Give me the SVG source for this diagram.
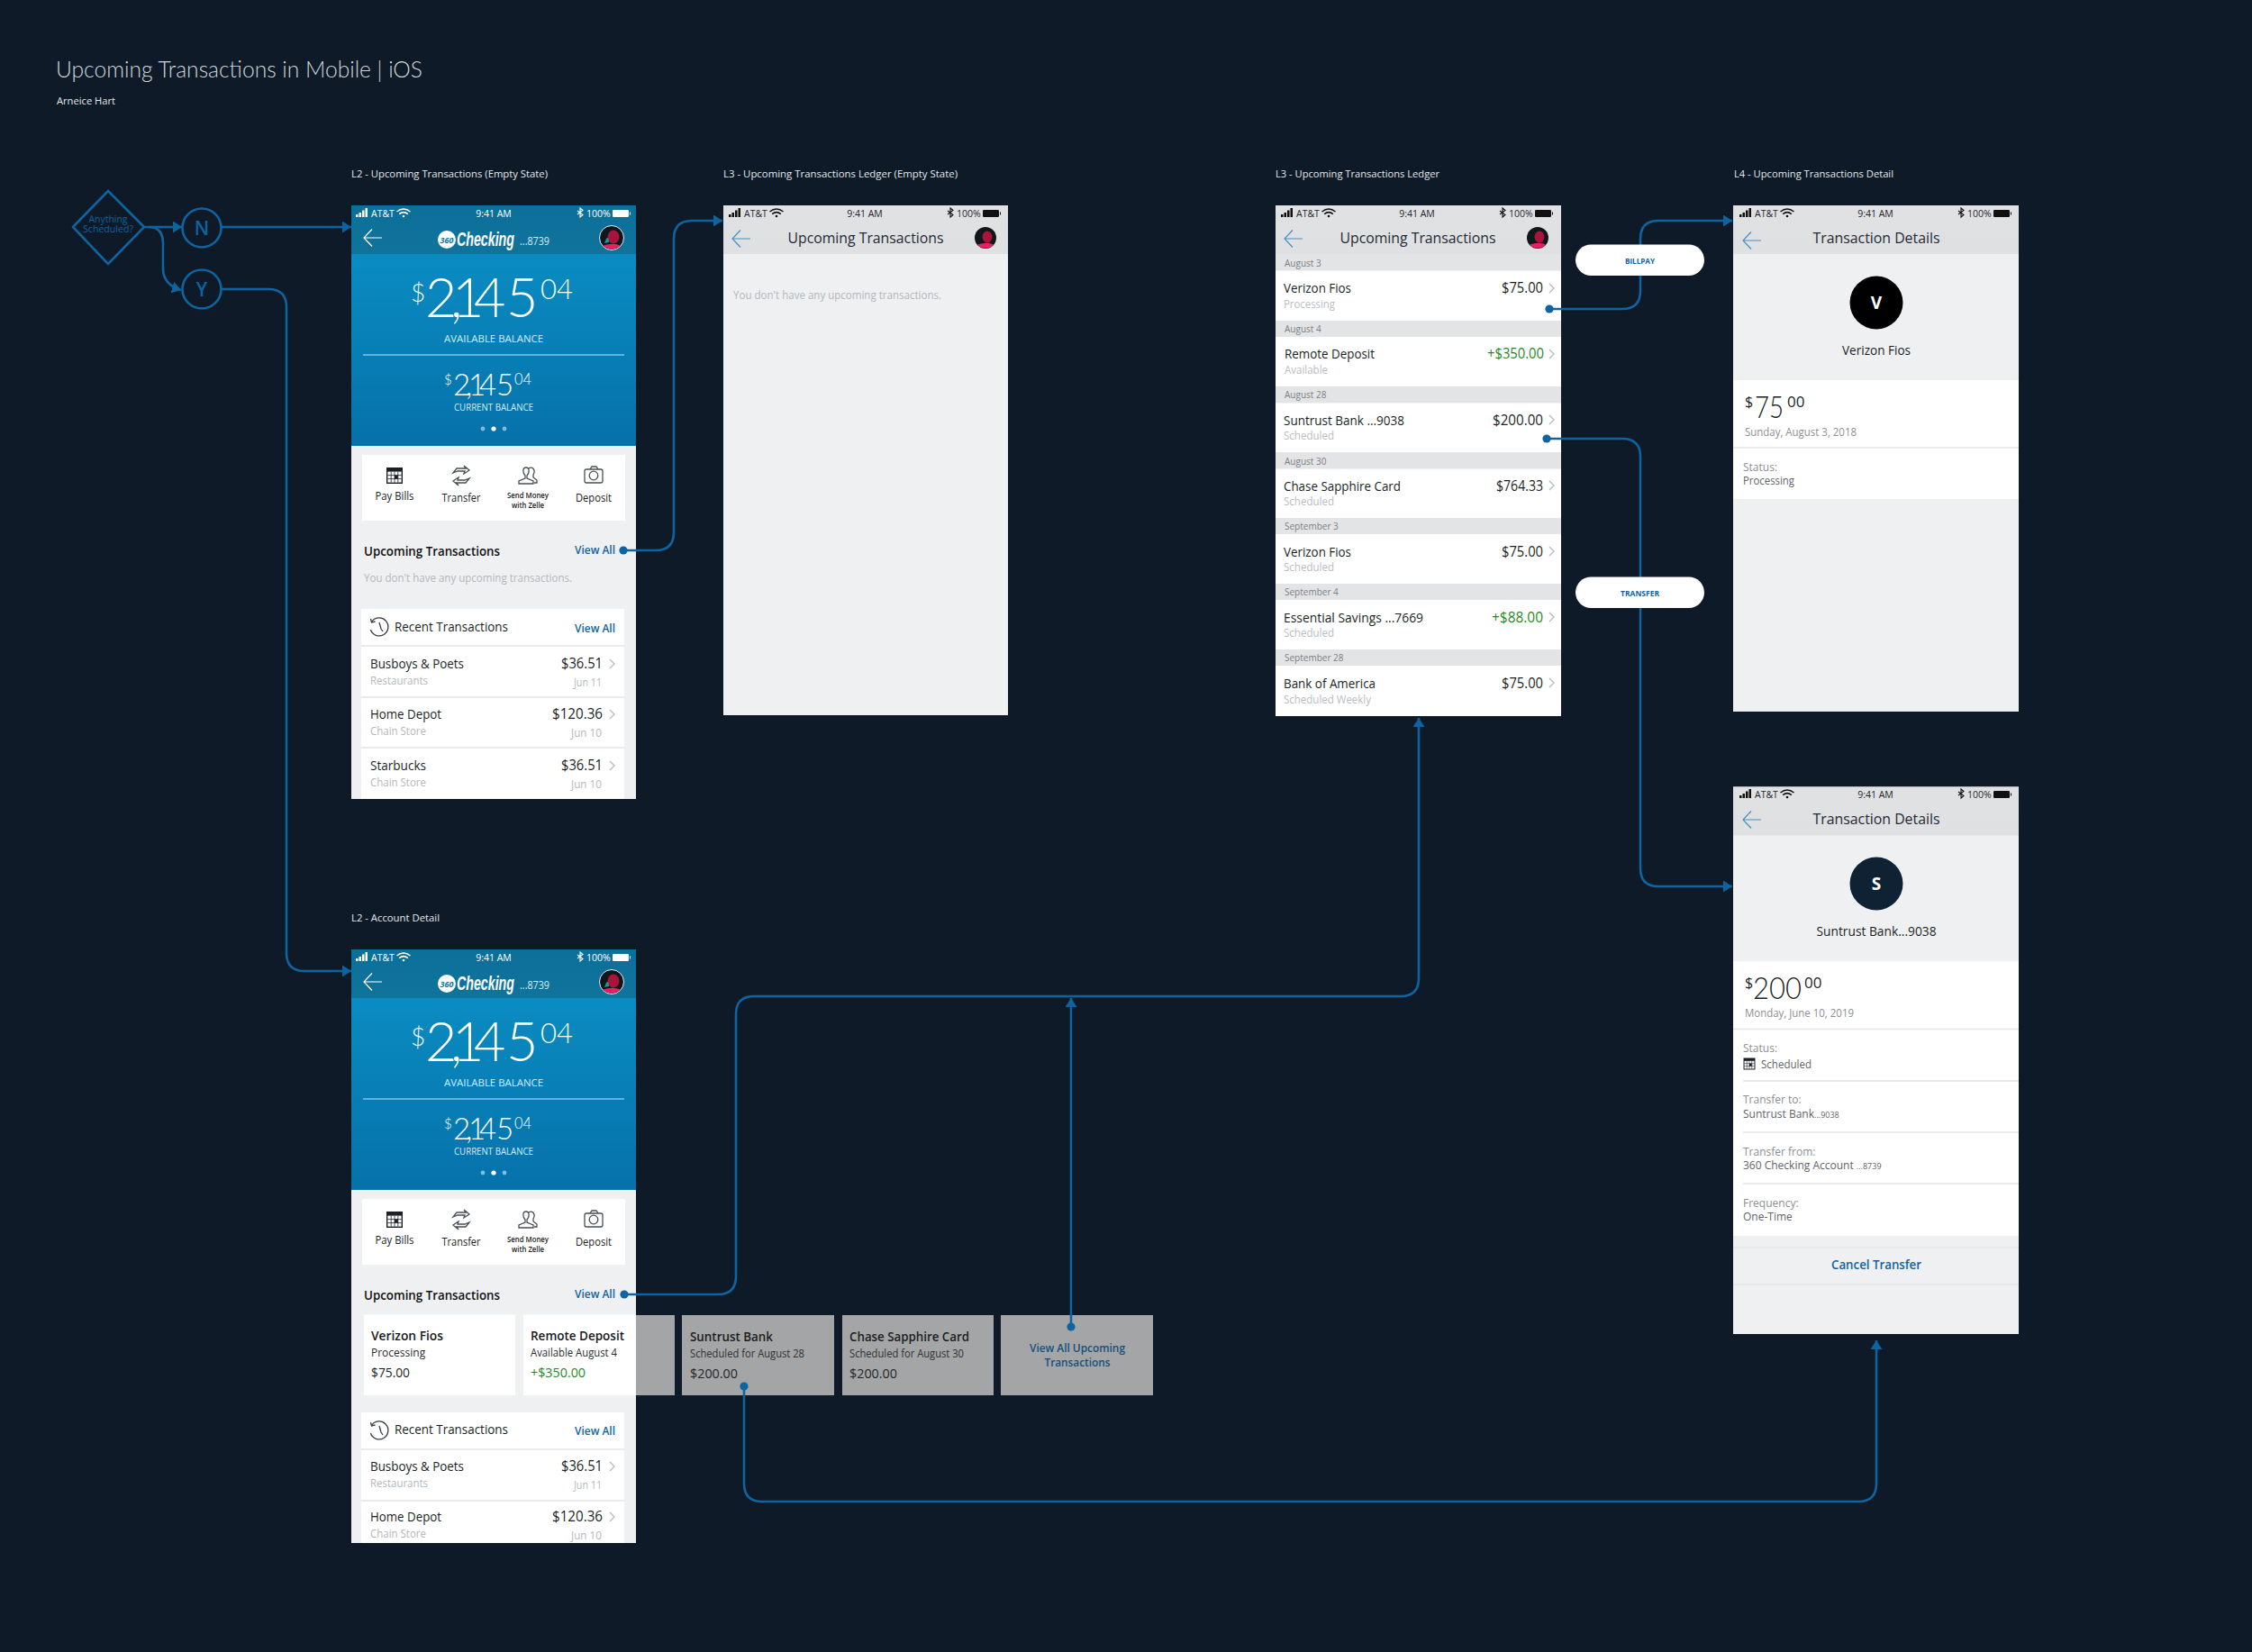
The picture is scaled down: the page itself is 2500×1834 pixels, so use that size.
<svg xmlns="http://www.w3.org/2000/svg" width="2500" height="1834" viewBox="0 0 2500 1834">
<style>
text{font-family:"Open Sans","Noto Sans","Liberation Sans",sans-serif;fill:#1d2630}
.lab{font-size:11px;fill:#e4e8ec}
.w{fill:#fff}
.st{font-size:10.5px}
.stw{font-size:10.5px;fill:#fff}
.nt{font-size:16.5px;fill:#1f2a36}
.b{font-weight:700}
.m{text-anchor:middle}
.e{text-anchor:end}
.va{font-size:12px;font-weight:600;fill:#0f639f}
.ut{font-size:13.5px;font-weight:600;fill:#111}
.gy{font-size:12px;fill:#b4b7bb}
.n14{font-size:14px;fill:#1b1f24}
.amt{font-size:17px;fill:#1b1f24}
.dt{font-size:10px;fill:#7b7f84}
.ln{font-size:14px;fill:#1b1f24}
.sub{font-size:12.5px;fill:#b9bcbf}
.la{font-size:15.5px;fill:#1b1f24}
.dim{font-size:12px;fill:#8b8e92}
.val{font-size:12px;fill:#5f6368}
.ql{font-size:12px;fill:#222}
.qs{font-size:8px;fill:#222;font-weight:600}
.bg{fill:#eff0f2}
.wh{fill:#fff}
.sep{stroke:#e4e5e7;stroke-width:1.5;fill:none}
.band{fill:#e3e4e6}
.con{fill:none;stroke:#0f639f;stroke-width:2.6}
.ic{fill:none;stroke:#4a4f55;stroke-width:1.3}
.bal{font-family:Lato,"Open Sans",sans-serif;font-weight:300;fill:#fff}
.ct{font-size:14px;font-weight:600;fill:#17191c}
.cs{font-size:12px;fill:#2a2c30}
.ca{font-size:14px;fill:#1b1f24}
.ctg{font-size:14px;font-weight:600;fill:#1c1e21}
.csg{font-size:12px;fill:#2f3134}
.cag{font-size:14px;fill:#232528}
.pill{fill:#fff}
.pt{font-size:8.5px;font-weight:700;fill:#0f639f}
.gr{fill:#1f8a1d}
.logo{font-family:"Liberation Sans",sans-serif;font-size:14.5px;font-weight:700;font-style:italic;fill:#fff}
</style>
<defs>
<marker id="ah" markerUnits="userSpaceOnUse" viewBox="0 0 10 13" refX="10" refY="6.5" markerWidth="10" markerHeight="13" orient="auto"><path d="M0,0 L10,6.5 L0,13 Z" fill="#0f639f"/></marker>
<marker id="dot" markerUnits="userSpaceOnUse" viewBox="0 0 10 10" refX="5" refY="5" markerWidth="10" markerHeight="10"><circle cx="5" cy="5" r="4.6" fill="#0f639f"/></marker>
<linearGradient id="blue" x1="0" y1="0" x2="0" y2="1"><stop offset="0" stop-color="#0a8cc2"/><stop offset="1" stop-color="#0671aa"/></linearGradient>
<linearGradient id="nav" x1="0" y1="0" x2="0" y2="1"><stop offset="0" stop-color="#0b7099"/><stop offset="1" stop-color="#10739c"/></linearGradient>
<linearGradient id="gnav" x1="0" y1="0" x2="0" y2="1"><stop offset="0" stop-color="#e0e1e3"/><stop offset="1" stop-color="#dfe0e2"/></linearGradient>
<clipPath id="p1"><rect x="390" y="228" width="316" height="659"/></clipPath>
<clipPath id="p2"><rect x="390" y="1054" width="316" height="659"/></clipPath>
<g id="signal"><rect x="0" y="-3" width="2.5" height="3"/><rect x="3.5" y="-5" width="2.5" height="5"/><rect x="7" y="-7.5" width="2.5" height="7.5"/><rect x="10.5" y="-10" width="2.5" height="10"/></g>
<g id="wifi"><path d="M-7.5,-6 Q0,-12 7.5,-6 M-4.8,-3.4 Q0,-7.4 4.8,-3.4" fill="none" stroke="currentColor" stroke-width="1.5"/><circle cx="0" cy="-1" r="1.3"/></g>
<path id="bt" d="M-3,-7 L3,-2.5 L0,0 L0,-10 L3,-7.5 L-3,-3" fill="none" stroke="currentColor" stroke-width="1.1"/>
<g id="batt"><rect x="0" y="-8" width="18" height="8" rx="1.2"/><rect x="19" y="-5.5" width="1" height="3"/></g>
<path id="back" d="M20,0 H0 M9,-9.5 L0,0 L9,9.5" fill="none" stroke="currentColor" stroke-width="1.2"/>
<path id="chev" d="M0,-5 L5,0 L0,5" fill="none" stroke="#b9bcbf" stroke-width="1.4"/>
<g id="cal"><rect x="-9" y="-9" width="18" height="18" fill="#1d2126"/><rect x="-7.6" y="-4.4" width="15.2" height="12" fill="#fff"/><path d="M-3.8,-4.4 V7.6 M0,-4.4 V7.6 M3.8,-4.4 V7.6 M-7.6,-0.4 H7.6 M-7.6,3.6 H7.6" stroke="#1d2126" stroke-width=".8"/><rect x="0" y="-0.4" width="3.8" height="4" fill="#1d2126"/></g>
<g id="xfer" class="ic"><path d="M-9,-3 L-5,-8 L5,-8 L3,-11 L9,-6 L3,-2 L4,-5 L-4,-5 Z M9,3 L5,8 L-5,8 L-3,11 L-9,6 L-3,2 L-4,5 L4,5 Z"/></g>
<g id="people" class="ic"><path d="M-10,9 V6 L-3,3 V0 C-6,-3 -6,-9 -2,-9 C2,-9 2,-3 -1,0 V3 L6,6 V9 Z"/><path d="M1,-8 C5,-11 9,-6 6,-1 V2 L10,5 V8 H7"/></g>
<g id="camera" class="ic"><rect x="-10" y="-7" width="20" height="15" rx="2"/><path d="M-4,-7 L-2,-10 H3 L5,-7"/><circle cx="0" cy="0" r="4.8"/></g>
<g id="clock" fill="none" stroke="#3b3f44" stroke-width="1.3"><path d="M-8.5,-5.5 A10,10 0 1 1 -9.6,3"/><path d="M-9.5,-9 L-8.5,-5 L-4.5,-6"/><path d="M0,-5 L2,2 L4,5"/></g>
<g id="av"><circle r="13.5" fill="#10161b" stroke="#e9eef2" stroke-width="1"/><ellipse cx="2" cy="-1" rx="6.5" ry="7.5" fill="#a8143a"/><path d="M-6,1 Q-3,-2 -3,5 L-8,6 Z" fill="#2c8f98"/><path d="M-9.5,8.500 A13,13 0 0 0 9.500,8.500 Q2,5 -9.500,8.500 Z" fill="#e81f60"/></g>
<g id="ava"><circle r="12" fill="#10161b"/><ellipse cx="2" cy="-1" rx="5.500" ry="6.500" fill="#a8143a"/><path d="M-9,7.500 A12,12 0 0 0 9,7.500 Q2,4 -9,7.500 Z" fill="#e81f60"/></g>
</defs>
<rect id="background" width="2500" height="1834" fill="#0e1a27"/>
<g id="title">
<text x="62" y="86" font-size="26" style="font-family:Lato,'Open Sans',sans-serif;font-weight:300;fill:#cfd6dc" textLength="407" lengthAdjust="spacingAndGlyphs">Upcoming Transactions in Mobile | iOS</text>
<text x="63" y="116" class="lab" textLength="65" lengthAdjust="spacingAndGlyphs">Arneice Hart</text>
</g>
<g id="labels">
<text x="390" y="197" class="lab" textLength="218" lengthAdjust="spacingAndGlyphs">L2 - Upcoming Transactions (Empty State)</text>
<text x="803" y="197" class="lab" textLength="260" lengthAdjust="spacingAndGlyphs">L3 - Upcoming Transactions  Ledger (Empty State)</text>
<text x="1416" y="197" class="lab" textLength="182" lengthAdjust="spacingAndGlyphs">L3 - Upcoming Transactions Ledger</text>
<text x="1925" y="197" class="lab" textLength="177" lengthAdjust="spacingAndGlyphs">L4 - Upcoming Transactions Detail</text>
<text x="390" y="1023" class="lab" textLength="98" lengthAdjust="spacingAndGlyphs">L2 - Account Detail</text>
</g>
<g id="decision">
<path d="M120,212 L160,252 L120,293 L81,252 Z" fill="none" stroke="#0f639f" stroke-width="2.6" stroke-linejoin="round"/>
<text x="120" y="247" class="m" font-size="10.5" style="fill:#0f639f" textLength="43" lengthAdjust="spacingAndGlyphs">Anything</text>
<text x="120" y="258" class="m" font-size="10.5" style="fill:#0f639f" textLength="56" lengthAdjust="spacingAndGlyphs">Scheduled?</text>
</g>
<g id="node-n"><circle cx="224" cy="253" r="21.5" fill="none" stroke="#0f639f" stroke-width="2.6"/><text x="224" y="261" class="m" font-size="21" font-weight="600" style="fill:#0f639f">N</text></g>
<g id="node-y"><circle cx="224" cy="321" r="21.5" fill="none" stroke="#0f639f" stroke-width="2.6"/><text x="224" y="329" class="m" font-size="21" font-weight="600" style="fill:#0f639f">Y</text></g>

<g id="screen-l2-empty" clip-path="url(#p1)">
<rect x="390" y="228" width="316" height="659" class="bg"/>
<rect x="390" y="228" width="316" height="54" fill="url(#nav)"/>
<rect x="390" y="282" width="316" height="213" fill="url(#blue)"/>
<use href="#signal" x="395" y="241" fill="#fff"/><text x="412" y="241" class="stw">AT&amp;T</text><use href="#wifi" x="448" y="241" fill="#fff" color="#fff"/>
<text x="548" y="241" class="stw m">9:41 AM</text><use href="#bt" x="644" y="241" color="#fff"/><text x="651" y="241" class="stw">100%</text><use href="#batt" x="680" y="241" fill="#fff"/>
<use href="#back" x="404" y="264" color="#fff"/>
<ellipse cx="496" cy="266" rx="10" ry="10" fill="#fff"/><text x="496" y="270" class="m b" font-size="9" font-style="italic" style="fill:#0f739c">360</text>
<text transform="translate(507 273) scale(1 1.5)" class="logo" textLength="64" lengthAdjust="spacingAndGlyphs">Checking</text>
<text x="577" y="272" font-size="13" style="fill:#d8ecf5" textLength="33" lengthAdjust="spacingAndGlyphs">...8739</text>
<use href="#av" x="679" y="264"/>
<text x="456" y="335" font-size="28" class="bal">$</text>
<text x="472 500 502 526 562" y="352" font-size="61" class="bal">2,145</text>
<text x="600" y="332" font-size="32" class="bal" textLength="36" lengthAdjust="spacingAndGlyphs">04</text>
<text x="548" y="380" font-size="11.5" class="m" style="fill:#d5ecf6" textLength="110" lengthAdjust="spacingAndGlyphs">AVAILABLE BALANCE</text>
<path d="M403,394 H693" stroke="#7cc6e8" stroke-width="1.5"/>
<text x="493" y="427" font-size="15" class="bal">$</text>
<text x="503 517 520 532 551" y="439" font-size="33" class="bal">2,145</text>
<text x="571" y="427" font-size="18" class="bal" textLength="19" lengthAdjust="spacingAndGlyphs">04</text>
<text x="548" y="456" font-size="10" class="m" style="fill:#d5ecf6" textLength="88" lengthAdjust="spacingAndGlyphs">CURRENT BALANCE</text>
<circle cx="536" cy="476" r="2.4" fill="#7dbcdc"/><circle cx="548" cy="476" r="2.6" fill="#fff"/><circle cx="560" cy="476" r="2.4" fill="#7dbcdc"/>
<rect x="402" y="505" width="292" height="73" class="wh"/>
<use href="#cal" x="438" y="528"/><use href="#xfer" x="512" y="528"/><use href="#people" x="586" y="528"/><use href="#camera" x="659" y="528"/>
<text x="438" y="555" class="ql m" textLength="43" lengthAdjust="spacingAndGlyphs">Pay Bills</text>
<text x="512" y="557" class="ql m" textLength="43" lengthAdjust="spacingAndGlyphs">Transfer</text>
<text x="586" y="553" class="qs m" textLength="46" lengthAdjust="spacingAndGlyphs">Send Money</text>
<text x="586" y="564" class="qs m" textLength="36" lengthAdjust="spacingAndGlyphs">with Zelle</text>
<text x="659" y="557" class="ql m" textLength="40" lengthAdjust="spacingAndGlyphs">Deposit</text>
<text x="404" y="617" class="ut" textLength="151" lengthAdjust="spacingAndGlyphs">Upcoming Transactions</text>
<text x="638" y="615" class="va" textLength="45" lengthAdjust="spacingAndGlyphs">View All</text>
<text x="404" y="646" class="gy" textLength="231" lengthAdjust="spacingAndGlyphs">You don't have any upcoming transactions.</text>
<rect x="401" y="676" width="292" height="211" class="wh"/>
<path d="M401,717 H693 M401,774 H693 M401,830 H693" class="sep"/>
<use href="#clock" x="421" y="696"/>
<text x="438" y="701" class="n14" textLength="126" lengthAdjust="spacingAndGlyphs">Recent Transactions</text>
<text x="638" y="702" class="va" textLength="45" lengthAdjust="spacingAndGlyphs">View All</text>
<text x="411" y="742" class="n14" textLength="104" lengthAdjust="spacingAndGlyphs">Busboys &amp; Poets</text><text x="669" y="742" class="amt e" textLength="46" lengthAdjust="spacingAndGlyphs">$36.51</text><use href="#chev" x="677" y="737"/><text x="411" y="760" class="gy" textLength="64" lengthAdjust="spacingAndGlyphs">Restaurants</text><text x="668" y="762" class="gy e" textLength="31" lengthAdjust="spacingAndGlyphs">Jun 11</text>
<text x="411" y="798" class="n14" textLength="79" lengthAdjust="spacingAndGlyphs">Home Depot</text><text x="669" y="798" class="amt e" textLength="56" lengthAdjust="spacingAndGlyphs">$120.36</text><use href="#chev" x="677" y="793"/><text x="411" y="816" class="gy" textLength="62" lengthAdjust="spacingAndGlyphs">Chain Store</text><text x="668" y="818" class="gy e" textLength="34" lengthAdjust="spacingAndGlyphs">Jun 10</text>
<text x="411" y="855" class="n14" textLength="62" lengthAdjust="spacingAndGlyphs">Starbucks</text><text x="669" y="855" class="amt e" textLength="46" lengthAdjust="spacingAndGlyphs">$36.51</text><use href="#chev" x="677" y="850"/><text x="411" y="873" class="gy" textLength="62" lengthAdjust="spacingAndGlyphs">Chain Store</text><text x="668" y="875" class="gy e" textLength="34" lengthAdjust="spacingAndGlyphs">Jun 10</text>
</g>

<g id="screen-l3-empty">
<rect x="803" y="228" width="316" height="566" class="bg"/>
<rect x="803" y="228" width="316" height="54" fill="url(#gnav)"/>
<use href="#signal" x="809" y="241" fill="#111"/><text x="826" y="241" class="st">AT&amp;T</text><use href="#wifi" x="862" y="241" fill="#111" color="#111"/>
<text x="960" y="241" class="st m">9:41 AM</text><use href="#bt" x="1055" y="241" color="#111"/><text x="1062" y="241" class="st">100%</text><use href="#batt" x="1091" y="241" fill="#111"/>
<use href="#back" x="813" y="265" color="#4a8fbe"/>
<text x="961" y="270" class="nt m" textLength="173" lengthAdjust="spacingAndGlyphs">Upcoming Transactions</text>
<use href="#ava" x="1094" y="264"/>
<text x="814" y="332" class="gy" textLength="231" lengthAdjust="spacingAndGlyphs">You don't have any upcoming transactions.</text>
</g>

<g id="screen-l3-ledger">
<rect x="1416" y="228" width="317" height="567" class="wh"/>
<rect x="1416" y="228" width="317" height="54" fill="url(#gnav)"/>
<use href="#signal" x="1422" y="241" fill="#111"/><text x="1439" y="241" class="st">AT&amp;T</text><use href="#wifi" x="1475" y="241" fill="#111" color="#111"/>
<text x="1573" y="241" class="st m">9:41 AM</text><use href="#bt" x="1668" y="241" color="#111"/><text x="1675" y="241" class="st">100%</text><use href="#batt" x="1704" y="241" fill="#111"/>
<use href="#back" x="1426" y="265" color="#4a8fbe"/>
<text x="1574" y="270" class="nt m" textLength="173" lengthAdjust="spacingAndGlyphs">Upcoming Transactions</text>
<use href="#ava" x="1707" y="264"/>
<rect x="1416" y="282" width="317" height="18.500" class="band"/><rect x="1416" y="356" width="317" height="18" class="band"/><rect x="1416" y="429" width="317" height="18.500" class="band"/><rect x="1416" y="502" width="317" height="18.500" class="band"/><rect x="1416" y="575" width="317" height="18" class="band"/><rect x="1416" y="648" width="317" height="18" class="band"/><rect x="1416" y="721" width="317" height="18" class="band"/>
<text x="1426" y="296" class="dt">August 3</text><text x="1426" y="369" class="dt">August 4</text><text x="1426" y="442" class="dt">August 28</text><text x="1426" y="515.500" class="dt">August 30</text><text x="1426" y="588" class="dt">September 3</text><text x="1426" y="661" class="dt">September 4</text><text x="1426" y="734" class="dt">September 28</text>
<text x="1425" y="325" class="ln" textLength="75" lengthAdjust="spacingAndGlyphs">Verizon Fios</text><text x="1425" y="342" class="sub" textLength="57" lengthAdjust="spacingAndGlyphs">Processing</text><text x="1713" y="325" class="la e" textLength="46" lengthAdjust="spacingAndGlyphs">$75.00</text><use href="#chev" x="1720" y="320"/>
<text x="1426" y="398" class="ln" textLength="100" lengthAdjust="spacingAndGlyphs">Remote Deposit</text><text x="1426" y="415" class="sub" textLength="48" lengthAdjust="spacingAndGlyphs">Available</text><text x="1714" y="398" class="la e gr" textLength="63" lengthAdjust="spacingAndGlyphs">+$350.00</text><use href="#chev" x="1720" y="393"/>
<text x="1425" y="472" class="ln" textLength="134" lengthAdjust="spacingAndGlyphs">Suntrust Bank ...9038</text><text x="1425" y="488" class="sub" textLength="56" lengthAdjust="spacingAndGlyphs">Scheduled</text><text x="1713" y="472" class="la e" textLength="56" lengthAdjust="spacingAndGlyphs">$200.00</text><use href="#chev" x="1720" y="466"/>
<text x="1425" y="545" class="ln" textLength="130" lengthAdjust="spacingAndGlyphs">Chase Sapphire Card</text><text x="1425" y="561" class="sub" textLength="56" lengthAdjust="spacingAndGlyphs">Scheduled</text><text x="1713" y="545" class="la e" textLength="52" lengthAdjust="spacingAndGlyphs">$764.33</text><use href="#chev" x="1720" y="539"/>
<text x="1425" y="618" class="ln" textLength="75" lengthAdjust="spacingAndGlyphs">Verizon Fios</text><text x="1425" y="634" class="sub" textLength="56" lengthAdjust="spacingAndGlyphs">Scheduled</text><text x="1713" y="618" class="la e" textLength="46" lengthAdjust="spacingAndGlyphs">$75.00</text><use href="#chev" x="1720" y="612"/>
<text x="1425" y="691" class="ln" textLength="155" lengthAdjust="spacingAndGlyphs">Essential Savings ...7669</text><text x="1425" y="707" class="sub" textLength="56" lengthAdjust="spacingAndGlyphs">Scheduled</text><text x="1713" y="691" class="la e gr" textLength="57" lengthAdjust="spacingAndGlyphs">+$88.00</text><use href="#chev" x="1720" y="685"/>
<text x="1425" y="764" class="ln" textLength="102" lengthAdjust="spacingAndGlyphs">Bank of America</text><text x="1425" y="781" class="sub" textLength="97" lengthAdjust="spacingAndGlyphs">Scheduled Weekly</text><text x="1713" y="764" class="la e" textLength="46" lengthAdjust="spacingAndGlyphs">$75.00</text><use href="#chev" x="1720" y="758"/>
</g>

<g id="screen-l4-verizon">
<rect x="1924" y="228" width="317" height="562" class="bg"/>
<rect x="1924" y="228" width="317" height="54" fill="url(#gnav)"/>
<use href="#signal" x="1931" y="241" fill="#111"/><text x="1948" y="241" class="st">AT&amp;T</text><use href="#wifi" x="1984" y="241" fill="#111" color="#111"/>
<text x="2082" y="241" class="st m">9:41 AM</text><use href="#bt" x="2177" y="241" color="#111"/><text x="2184" y="241" class="st">100%</text><use href="#batt" x="2213" y="241" fill="#111"/>
<use href="#back" x="1935" y="267" color="#4a8fbe"/>
<text x="2083" y="270" class="nt m" textLength="141" lengthAdjust="spacingAndGlyphs">Transaction Details</text>
<circle cx="2083" cy="336" r="29.500" fill="#000"/><text x="2083" y="343" class="m b w" font-size="19">V</text>
<text x="2083" y="394" class="ln m" textLength="76" lengthAdjust="spacingAndGlyphs">Verizon Fios</text>
<rect x="1924" y="422" width="317" height="132" class="wh"/><path d="M1924,497 H2241" class="sep"/>
<text x="1937" y="452" font-size="16" style="fill:#1b1f24">$</text><text x="1948" y="464" font-size="34" style="font-family:Lato,sans-serif;font-weight:300;fill:#1b1f24" textLength="32" lengthAdjust="spacingAndGlyphs">75</text><text x="1984" y="452" font-size="17" style="fill:#1b1f24">00</text>
<text x="1937" y="484" class="dim" textLength="124" lengthAdjust="spacingAndGlyphs">Sunday, August 3, 2018</text>
<text x="1935" y="523" class="dim">Status:</text><text x="1935" y="538" class="val" textLength="57" lengthAdjust="spacingAndGlyphs">Processing</text>
</g>

<g id="screen-l4-suntrust">
<rect x="1924" y="873.500" width="317" height="607.500" class="bg"/>
<rect x="1924" y="873.500" width="317" height="54" fill="url(#gnav)"/>
<use href="#signal" x="1931" y="886" fill="#111"/><text x="1948" y="886" class="st">AT&amp;T</text><use href="#wifi" x="1984" y="886" fill="#111" color="#111"/>
<text x="2082" y="886" class="st m">9:41 AM</text><use href="#bt" x="2177" y="886" color="#111"/><text x="2184" y="886" class="st">100%</text><use href="#batt" x="2213" y="886" fill="#111"/>
<use href="#back" x="1935" y="910" color="#4a8fbe"/>
<text x="2083" y="915" class="nt m" textLength="141" lengthAdjust="spacingAndGlyphs">Transaction Details</text>
<circle cx="2083" cy="981" r="29.500" fill="#0e2233"/><text x="2083" y="988" class="m b w" font-size="19">S</text>
<text x="2083" y="1039" class="ln m" textLength="133" lengthAdjust="spacingAndGlyphs">Suntrust Bank...9038</text>
<rect x="1924" y="1067" width="317" height="305" class="wh"/>
<path d="M1924,1142.500 H2241 M1935,1200 H2241 M1935,1257 H2241 M1935,1314 H2241" class="sep"/>
<text x="1937" y="1097" font-size="16" style="fill:#1b1f24">$</text><text x="1946" y="1109" font-size="34" style="font-family:Lato,sans-serif;font-weight:300;fill:#1b1f24" textLength="54" lengthAdjust="spacingAndGlyphs">200</text><text x="2003" y="1097" font-size="17" style="fill:#1b1f24">00</text>
<text x="1937" y="1129" class="dim" textLength="121" lengthAdjust="spacingAndGlyphs">Monday, June 10, 2019</text>
<text x="1935" y="1168" class="dim">Status:</text><use href="#cal" transform="translate(1942 1181) scale(.72)"/><text x="1955" y="1186" class="val" textLength="56" lengthAdjust="spacingAndGlyphs">Scheduled</text>
<text x="1935" y="1225" class="dim">Transfer to:</text><text x="1935" y="1241" class="val">Suntrust Bank<tspan font-size="9">...9038</tspan></text>
<text x="1935" y="1283" class="dim">Transfer from:</text><text x="1935" y="1298" class="val">360 Checking Account <tspan font-size="9">...8739</tspan></text>
<text x="1935" y="1340" class="dim">Frequency:</text><text x="1935" y="1355" class="val">One-Time</text>
<path d="M1924,1385 H2241 M1924,1426 H2241" class="sep"/>
<text x="2083" y="1409" class="m" font-size="13.500" font-weight="600" style="fill:#0f639f" textLength="100" lengthAdjust="spacingAndGlyphs">Cancel Transfer</text>
</g>

<g id="carousel-cards">
<rect x="581" y="1460" width="168" height="89" fill="#a4a5a6"/>
<rect x="757" y="1460" width="169" height="89" fill="#a4a5a6"/>
<rect x="935" y="1460" width="168" height="89" fill="#a4a5a6"/>
<rect x="1111" y="1460" width="169" height="89" fill="#a4a5a6"/>
<text x="766" y="1489" class="ctg" textLength="92" lengthAdjust="spacingAndGlyphs">Suntrust Bank</text><text x="766" y="1507" class="csg" textLength="127" lengthAdjust="spacingAndGlyphs">Scheduled for August 28</text><text x="766" y="1530" class="cag" textLength="53" lengthAdjust="spacingAndGlyphs">$200.00</text>
<text x="943" y="1489" class="ctg" textLength="133" lengthAdjust="spacingAndGlyphs">Chase Sapphire Card</text><text x="943" y="1507" class="csg" textLength="127" lengthAdjust="spacingAndGlyphs">Scheduled for August 30</text><text x="943" y="1530" class="cag" textLength="53" lengthAdjust="spacingAndGlyphs">$200.00</text>
<text x="1196" y="1501" class="m" font-weight="600" font-size="12" style="fill:#14507f" textLength="106" lengthAdjust="spacingAndGlyphs">View All Upcoming</text><text x="1196" y="1517" class="m" font-weight="600" font-size="12" style="fill:#14507f" textLength="73" lengthAdjust="spacingAndGlyphs">Transactions</text>
</g>

<g id="screen-l2-account" clip-path="url(#p2)">
<rect x="390" y="1054" width="316" height="659" class="bg"/>
<rect x="390" y="1054" width="316" height="54" fill="url(#nav)"/>
<rect x="390" y="1108" width="316" height="213" fill="url(#blue)"/>
<use href="#signal" x="395" y="1067" fill="#fff"/><text x="412" y="1067" class="stw">AT&amp;T</text><use href="#wifi" x="448" y="1067" fill="#fff" color="#fff"/>
<text x="548" y="1067" class="stw m">9:41 AM</text><use href="#bt" x="644" y="1067" color="#fff"/><text x="651" y="1067" class="stw">100%</text><use href="#batt" x="680" y="1067" fill="#fff"/>
<use href="#back" x="404" y="1090" color="#fff"/>
<ellipse cx="496" cy="1092" rx="10" ry="10" fill="#fff"/><text x="496" y="1096" class="m b" font-size="9" font-style="italic" style="fill:#0f739c">360</text>
<text transform="translate(507 1099) scale(1 1.5)" class="logo" textLength="64" lengthAdjust="spacingAndGlyphs">Checking</text>
<text x="577" y="1098" font-size="13" style="fill:#d8ecf5" textLength="33" lengthAdjust="spacingAndGlyphs">...8739</text>
<use href="#av" x="679" y="1090"/>
<text x="456" y="1161" font-size="28" class="bal">$</text>
<text x="472 500 502 526 562" y="1178" font-size="61" class="bal">2,145</text>
<text x="600" y="1158" font-size="32" class="bal" textLength="36" lengthAdjust="spacingAndGlyphs">04</text>
<text x="548" y="1206" font-size="11.5" class="m" style="fill:#d5ecf6" textLength="110" lengthAdjust="spacingAndGlyphs">AVAILABLE BALANCE</text>
<path d="M403,1220 H693" stroke="#7cc6e8" stroke-width="1.5"/>
<text x="493" y="1253" font-size="15" class="bal">$</text>
<text x="503 517 520 532 551" y="1265" font-size="33" class="bal">2,145</text>
<text x="571" y="1253" font-size="18" class="bal" textLength="19" lengthAdjust="spacingAndGlyphs">04</text>
<text x="548" y="1282" font-size="10" class="m" style="fill:#d5ecf6" textLength="88" lengthAdjust="spacingAndGlyphs">CURRENT BALANCE</text>
<circle cx="536" cy="1302" r="2.4" fill="#7dbcdc"/><circle cx="548" cy="1302" r="2.6" fill="#fff"/><circle cx="560" cy="1302" r="2.4" fill="#7dbcdc"/>
<rect x="402" y="1331" width="292" height="73" class="wh"/>
<use href="#cal" x="438" y="1354"/><use href="#xfer" x="512" y="1354"/><use href="#people" x="586" y="1354"/><use href="#camera" x="659" y="1354"/>
<text x="438" y="1381" class="ql m" textLength="43" lengthAdjust="spacingAndGlyphs">Pay Bills</text>
<text x="512" y="1383" class="ql m" textLength="43" lengthAdjust="spacingAndGlyphs">Transfer</text>
<text x="586" y="1379" class="qs m" textLength="46" lengthAdjust="spacingAndGlyphs">Send Money</text>
<text x="586" y="1390" class="qs m" textLength="36" lengthAdjust="spacingAndGlyphs">with Zelle</text>
<text x="659" y="1383" class="ql m" textLength="40" lengthAdjust="spacingAndGlyphs">Deposit</text>
<text x="404" y="1443" class="ut" textLength="151" lengthAdjust="spacingAndGlyphs">Upcoming Transactions</text>
<text x="638" y="1441" class="va" textLength="45" lengthAdjust="spacingAndGlyphs">View All</text>
<rect x="404" y="1459.500" width="168" height="89.500" class="wh"/><rect x="581" y="1459.500" width="125" height="89.500" class="wh"/>
<text x="412" y="1488" class="ct" textLength="80" lengthAdjust="spacingAndGlyphs">Verizon Fios</text><text x="412" y="1506" class="cs">Processing</text><text x="412" y="1529" class="ca" textLength="43" lengthAdjust="spacingAndGlyphs">$75.00</text>
<text x="589" y="1488" class="ct" textLength="104" lengthAdjust="spacingAndGlyphs">Remote Deposit</text><text x="589" y="1506" class="cs" textLength="96" lengthAdjust="spacingAndGlyphs">Available August 4</text><text x="589" y="1529" class="ca gr" textLength="61" lengthAdjust="spacingAndGlyphs">+$350.00</text>
<rect x="401" y="1568" width="292" height="145" class="wh"/>
<path d="M401,1609 H693 M401,1666 H693" class="sep"/>
<use href="#clock" x="421" y="1588"/>
<text x="438" y="1592" class="n14" textLength="126" lengthAdjust="spacingAndGlyphs">Recent Transactions</text>
<text x="638" y="1593" class="va" textLength="45" lengthAdjust="spacingAndGlyphs">View All</text>
<text x="411" y="1633" class="n14" textLength="104" lengthAdjust="spacingAndGlyphs">Busboys &amp; Poets</text><text x="669" y="1633" class="amt e" textLength="46" lengthAdjust="spacingAndGlyphs">$36.51</text><use href="#chev" x="677" y="1628"/><text x="411" y="1651" class="gy" textLength="64" lengthAdjust="spacingAndGlyphs">Restaurants</text><text x="668" y="1653" class="gy e" textLength="31" lengthAdjust="spacingAndGlyphs">Jun 11</text>
<text x="411" y="1689" class="n14" textLength="79" lengthAdjust="spacingAndGlyphs">Home Depot</text><text x="669" y="1689" class="amt e" textLength="56" lengthAdjust="spacingAndGlyphs">$120.36</text><use href="#chev" x="677" y="1684"/><text x="411" y="1707" class="gy" textLength="62" lengthAdjust="spacingAndGlyphs">Chain Store</text><text x="668" y="1709" class="gy e" textLength="34" lengthAdjust="spacingAndGlyphs">Jun 10</text>
</g>

<g id="connectors">
<path class="con" d="M161,252 H202" marker-end="url(#ah)"/>
<path class="con" d="M246,252 H390" marker-end="url(#ah)"/>
<path class="con" d="M165,252 Q181,252 181,270 V298 Q181,316 201,322" marker-end="url(#ah)"/>
<path class="con" d="M246,321 H298 Q318,321 318,341 V1058 Q318,1078 338,1078 H390" marker-end="url(#ah)"/>
<path class="con" d="M692,611 H728 Q748,611 748,591 V265 Q748,245 768,245 H802" marker-start="url(#dot)" marker-end="url(#ah)"/>
<path class="con" d="M693,1437 H797 Q817,1437 817,1417 V1126 Q817,1106 837,1106 H1555 Q1575,1106 1575,1086 V797" marker-start="url(#dot)" marker-end="url(#ah)"/>
<path class="con" d="M1189,1473 V1108" marker-start="url(#dot)" marker-end="url(#ah)"/>
<path class="con" d="M826,1539 V1647 Q826,1667 846,1667 H2063 Q2083,1667 2083,1647 V1488" marker-start="url(#dot)" marker-end="url(#ah)"/>
<path class="con" d="M1720,343 H1801 Q1821,343 1821,323 V265 Q1821,245 1841,245 H1923" marker-start="url(#dot)" marker-end="url(#ah)"/>
<path class="con" d="M1717,487 H1801 Q1821,487 1821,507 V964 Q1821,984 1841,984 H1923" marker-start="url(#dot)" marker-end="url(#ah)"/>
</g>
<g id="pill-billpay"><rect x="1749" y="271.500" width="143" height="34.500" rx="17.250" class="pill"/><text x="1820.500" y="292.500" class="pt m" textLength="33" lengthAdjust="spacingAndGlyphs">BILLPAY</text></g>
<g id="pill-transfer"><rect x="1749" y="640.500" width="143" height="34.500" rx="17.250" class="pill"/><text x="1820.500" y="661.500" class="pt m" textLength="43" lengthAdjust="spacingAndGlyphs">TRANSFER</text></g>
</svg>
